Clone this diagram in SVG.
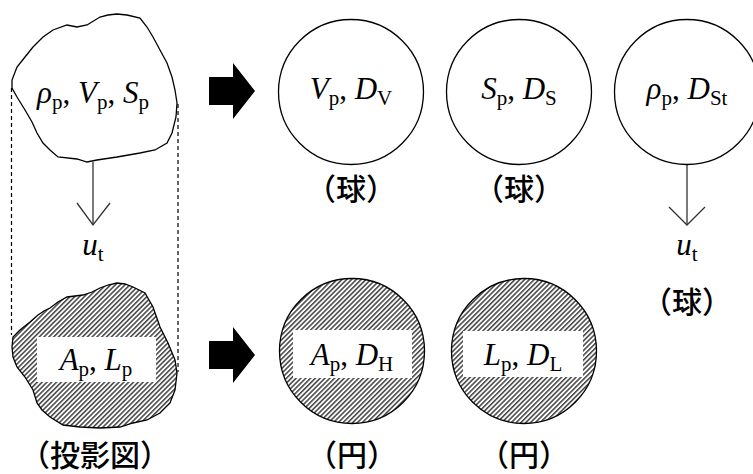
<svg xmlns="http://www.w3.org/2000/svg" width="753" height="474" viewBox="0 0 753 474">
<style>
.m{font-family:"Liberation Serif",serif;font-size:31px;font-style:italic;fill:#000}
.s{font-style:normal;font-size:21px}
.r{font-style:normal}
.j{font-family:"Noto Sans CJK JP",sans-serif;font-size:30px;font-weight:500;fill:#000}
.ol{fill:#fff;stroke:#000;stroke-width:1.3}
.ht{fill:url(#hatch);stroke:#000;stroke-width:1.3}
.box{fill:#fff;stroke:none}
.dash{stroke:#000;stroke-width:1.2;stroke-dasharray:4 3;fill:none}
.ar{stroke:#333;stroke-width:1.3;fill:none}
.blk{fill:#000}
</style>
<defs>
<pattern id="hatch" patternUnits="userSpaceOnUse" width="3.4" height="3.4" patternTransform="rotate(45)">
<rect width="3.4" height="3.4" fill="#fff"/>
<line x1="0.8" y1="0" x2="0.8" y2="3.4" stroke="#222" stroke-width="1.3"/>
</pattern>
</defs>
<g id="connectors">
<line class="dash" x1="11.5" y1="88" x2="11.5" y2="335"/>
<line class="dash" x1="178" y1="104" x2="178" y2="372"/>
<line class="ar" x1="93" y1="162" x2="93" y2="225"/>
<polyline class="ar" points="77,203 93,225 110,203"/>
<line class="ar" x1="687" y1="164" x2="687" y2="225"/>
<polyline class="ar" points="669,207 687,225 705,207"/>
<polygon id="arrow-top" class="blk" points="209,77 233,77 233,63 255,91 233,119 233,105 209,105"/>
<polygon id="arrow-bottom" class="blk" points="209,341 233,341 233,327 255,355 233,383 233,369 209,369"/>
</g>
<g id="particle">
<polygon class="ol" points="87,25 100,17 108,15 117,14 127,15 140,18 147,27 153,37 160,50 167,63 172,77 175,90 177,103 176,117 172,133 167,143 155,150 140,153 117,157 97,160 87,162 77,159 58,157 50,150 43,143 37,133 32,122 25,110 17,97 12,88 12,80 17,67 25,57 33,47 43,37 53,30 67,25 77,27"/>
<text class="m" x="93" y="103" text-anchor="middle">ρ<tspan class="s" dy="6">p</tspan><tspan class="r" dy="-6">, </tspan>V<tspan class="s" dy="6">p</tspan><tspan class="r" dy="-6">, </tspan>S<tspan class="s" dy="6">p</tspan></text>
</g>
<g id="ut-left"><text class="m" x="93" y="255" text-anchor="middle">u<tspan class="s" dy="6">t</tspan></text></g>
<g id="projection">
<polygon class="ht" points="117,283 108,285 100,288 92,292 83,295 75,296 67,297 58,302 50,308 44,311 38,315 30,322 20,330 13,337 12,347 13,357 17,367 25,377 33,390 37,403 42,410 50,417 63,425 80,427 100,428 120,427 133,423 147,420 160,413 170,403 175,390 177,373 175,360 168,343 160,327 153,307 145,293 133,287 125,284"/>
<rect class="box" x="37" y="337" width="119" height="45"/>
<text class="m" x="96" y="370" text-anchor="middle">A<tspan class="s" dy="6">p</tspan><tspan class="r" dy="-6">, </tspan>L<tspan class="s" dy="6">p</tspan></text>
<text class="j" x="95" y="466" text-anchor="middle">（投影図）</text>
</g>
<g id="sphere-V">
<circle class="ol" cx="351" cy="92" r="72.5"/>
<text class="m" x="351" y="99" text-anchor="middle">V<tspan class="s" dy="6">p</tspan><tspan class="r" dy="-6">, </tspan>D<tspan class="s" dy="6">V</tspan></text>
<text class="j" x="351" y="200" text-anchor="middle">（球）</text>
</g>
<g id="sphere-S">
<circle class="ol" cx="519" cy="92" r="72.5"/>
<text class="m" x="519" y="99" text-anchor="middle">S<tspan class="s" dy="6">p</tspan><tspan class="r" dy="-6">, </tspan>D<tspan class="s" dy="6">S</tspan></text>
<text class="j" x="519" y="200" text-anchor="middle">（球）</text>
</g>
<g id="sphere-St">
<circle class="ol" cx="687" cy="92" r="72.5"/>
<text class="m" x="687" y="99" text-anchor="middle">ρ<tspan class="s" dy="6">p</tspan><tspan class="r" dy="-6">, </tspan>D<tspan class="s" dy="6">St</tspan></text>
<text class="m" x="687" y="255" text-anchor="middle">u<tspan class="s" dy="6">t</tspan></text>
<text class="j" x="687" y="313" text-anchor="middle">（球）</text>
</g>
<g id="circle-H">
<circle class="ht" cx="352" cy="351" r="72.5"/>
<rect class="box" x="293" y="330" width="119" height="48"/>
<text class="m" x="352" y="365" text-anchor="middle">A<tspan class="s" dy="6">p</tspan><tspan class="r" dy="-6">, </tspan>D<tspan class="s" dy="6">H</tspan></text>
<text class="j" x="352" y="466" text-anchor="middle">（円）</text>
</g>
<g id="circle-L">
<circle class="ht" cx="524" cy="351" r="72.5"/>
<rect class="box" x="463" y="331" width="120" height="46"/>
<text class="m" x="523" y="365" text-anchor="middle">L<tspan class="s" dy="6">p</tspan><tspan class="r" dy="-6">, </tspan>D<tspan class="s" dy="6">L</tspan></text>
<text class="j" x="524" y="466" text-anchor="middle">（円）</text>
</g>
</svg>
